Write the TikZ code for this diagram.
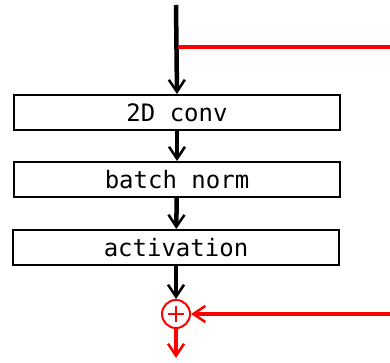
\documentclass[tikz,border=0pt]{standalone}
\usepackage{fontspec}
\setmonofont{DejaVu Sans Mono}
\usetikzlibrary{arrows.meta}
\begin{document}
\begin{tikzpicture}[x=1pt, y=1pt,
        layer/.style={draw, line width=2pt, minimum width=326pt, minimum height=35pt, inner sep=0pt, font=\ttfamily\fontsize{24}{28}\selectfont},
        flow/.style={line width=4.5pt, -{Straight Barb[length=12pt, width=16pt, line width=2.5pt]}},
        skip/.style={red, line width=4pt}]
        \useasboundingbox (0,0) rectangle (390,363);

        \coordinate (in) at (176,358);
        \node[layer] (conv) at (177,250.5) {2D conv};
        \node[layer] (bn) at (177,183.5) {batch norm};
        \node[layer] (act) at (176,115.5) {activation};
        \node[draw=red, line width=2pt, circle, minimum size=28pt, inner sep=0pt] (add) at (176,49) {};
        \draw[red, line width=2pt] ([xshift=-8pt]add.center) -- ([xshift=8pt]add.center)
            ([yshift=-8pt]add.center) -- ([yshift=8pt]add.center);
        \coordinate (out) at (176,5);
        \coordinate (sk1) at (390,316);
        \coordinate (sk2) at (390,49);

		\draw[flow] (in) -- (conv.north);
		\draw[flow] (conv) -- (bn);
		\draw[flow] (bn) -- (act);
		\draw[flow] (act) -- (add);
		\draw[skip] (sk1) -- ([xshift=2pt]in |- sk1);
		\draw[flow, skip] (sk2) -- (add);
		\draw[flow, skip] (add) -- (out);

    \end{tikzpicture}
\end{document}
